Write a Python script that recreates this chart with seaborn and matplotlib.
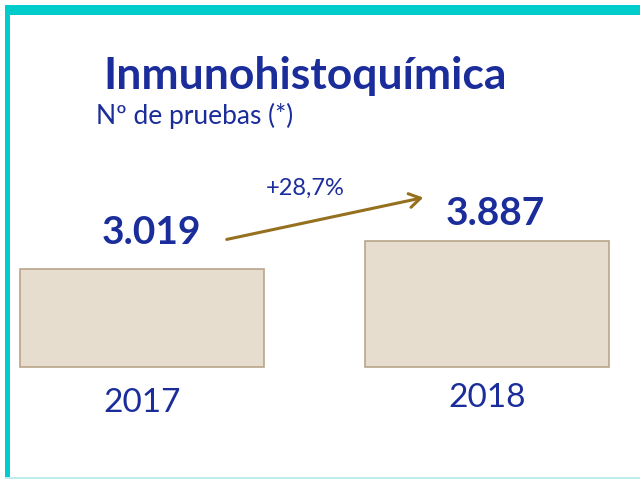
import numpy as np
import pandas as pd
import matplotlib as mpl
mpl.use('Agg')
import matplotlib.pyplot as plt
import seaborn as sns
from matplotlib.patches import Rectangle

# datos
years = ['2017', '2018']
pruebas = [3019, 3887]
value_labels = ['3.019', '3.887']
change_label = '+28,7%'
title = 'Inmunohistoquímica'
subtitle = 'Nº de pruebas (*)'

BLUE = '#1B2D9B'
BAR_FILL = '#E6DDCF'
BAR_EDGE = '#B9A68A'
ARROW = '#94701F'
CYAN = '#00CCCC'

sns.set_theme(style='white')
plt.rcParams['font.family'] = ['Lato', 'DejaVu Sans']

W, H = 640, 480
fig = plt.figure(figsize=(6.4, 4.8), dpi=100)
fig.patch.set_facecolor('white')

# px por unidad, base de las barras en y=367 px
k = 126 / 3887
base_px = 367
ax = fig.add_axes([0, 0, 1, 1])
df = pd.DataFrame({'year': years, 'n': pruebas})
sns.barplot(data=df, x='year', y='n', ax=ax, width=0.71,
            color=BAR_FILL, edgecolor=BAR_EDGE, linewidth=1.2, saturation=1)
ax.set_xlim(-142 / 345, (W - 142) / 345)
ax.set_ylim(-(H - base_px) / k, base_px / k)
ax.axis('off')

# valores encima de las barras
offsets = [(6.5, 26.6), (5.8, 20)]
for i, (v, lab) in enumerate(zip(pruebas, value_labels)):
    ax.annotate(lab, (i, v), xytext=offsets[i], textcoords='offset points',
                ha='center', va='center', fontsize=28, fontweight='bold', color=BLUE)

# años debajo
year_off = [-15, -11.5]
for i, y in enumerate(years):
    ax.annotate(y, (i, 0), xytext=(0, year_off[i]), textcoords='offset points',
                ha='center', va='top', fontsize=24, color=BLUE)

# flecha de variación
def fp(x, y):
    return (x / W, 1 - y / H)

fig.add_artist(mpl.patches.FancyArrowPatch(fp(224, 240), fp(426, 197),
                                           transform=fig.transFigure,
                                           arrowstyle='->,head_length=8,head_width=5',
                                           color=ARROW, lw=2.2))
fig.text(*fp(305, 188), change_label, ha='center', va='center', fontsize=17, color=BLUE)

# títulos
fig.text(*fp(103, 76), title, ha='left', va='center', fontsize=32,
         fontweight='bold', color=BLUE)
fig.text(*fp(96, 116), subtitle, ha='left', va='center', fontsize=19, color=BLUE)

# marco cian
fig.patches.append(Rectangle(fp(5, 15), (W - 5) / W, 10 / H, transform=fig.transFigure,
                             facecolor=CYAN, edgecolor='none', zorder=5))
fig.patches.append(Rectangle(fp(5, 478), 5 / W, 463 / H, transform=fig.transFigure,
                             facecolor=CYAN, edgecolor='none', zorder=5))
fig.patches.append(Rectangle(fp(5, 479), (W - 5) / W, 2 / H, transform=fig.transFigure,
                             facecolor='#BFEDED', edgecolor='none', zorder=5))

fig.savefig('out.png', dpi=100)
